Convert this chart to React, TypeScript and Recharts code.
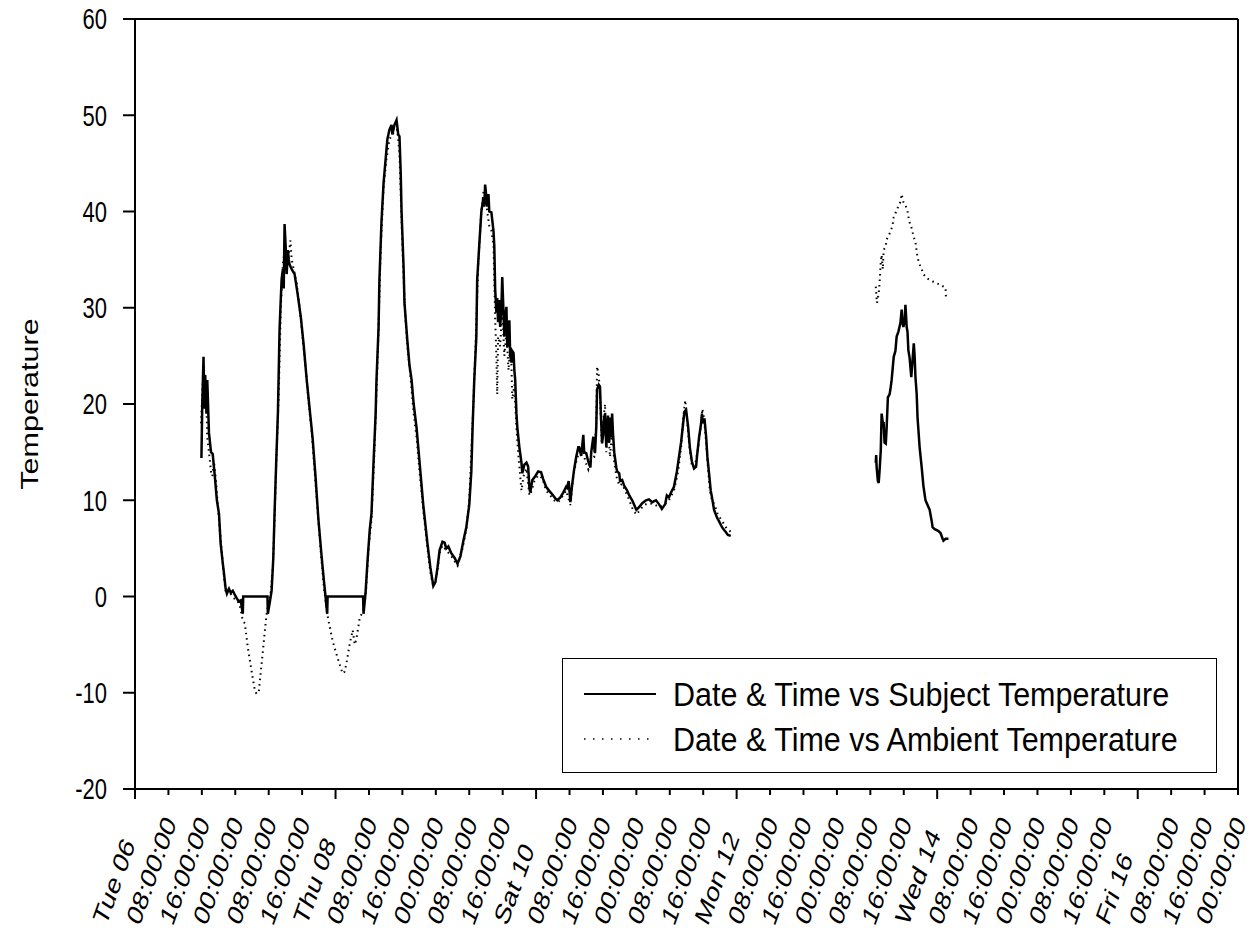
import React from 'react';
import { LineChart, Line, XAxis, YAxis, ReferenceLine } from 'recharts';

// x = hours since Tue 06 00:00, ticks every 8 h
const HOUR_TICKS = [
  0, 8, 16, 24, 32, 40, 48, 56, 64, 72, 80, 88, 96, 104, 112, 120, 128, 136,
  144, 152, 160, 168, 176, 184, 192, 200, 208, 216, 224, 232, 240, 248, 256, 264,
];
const HOUR_LABELS = [
  'Tue 06', '08:00:00', '16:00:00', '00:00:00', '08:00:00', '16:00:00',
  'Thu 08', '08:00:00', '16:00:00', '00:00:00', '08:00:00', '16:00:00',
  'Sat 10', '08:00:00', '16:00:00', '00:00:00', '08:00:00', '16:00:00',
  'Mon 12', '08:00:00', '16:00:00', '00:00:00', '08:00:00', '16:00:00',
  'Wed 14', '08:00:00', '16:00:00', '00:00:00', '08:00:00', '16:00:00',
  'Fri 16', '08:00:00', '16:00:00', '00:00:00',
];
const TEMP_TICKS = [-20, -10, 0, 10, 20, 30, 40, 50, 60];
const SERIES_NAMES = ['Date & Time vs Subject Temperature', 'Date & Time vs Ambient Temperature'];

// [hour, temperature]
const SUBJECT_1: [number, number][] = [
  [15.9, 14.4], [16.1, 20], [16.4, 24.9], [16.6, 19.5], [16.8, 23], [17.1, 19], [17.3, 22.5],
  [17.7, 17], [18.2, 15], [18.6, 14.8], [19.1, 12.5], [19.6, 10], [20.1, 8.6], [20.5, 5.5],
  [21.0, 3.5], [21.3, 2.4], [21.7, 0.8], [22.0, 0.3], [22.5, 0.8], [22.9, 0.4], [23.4, 0.6],
  [24.1, 0], [24.8, -0.5], [25.3, -0.4], [25.8, -1.8], [25.9, 0], [31.7, 0], [31.8, -1.8],
  [32.3, -0.5], [32.7, 0.6], [33.1, 4], [33.4, 8.6], [33.8, 14], [34.2, 19], [34.6, 27.7],
  [34.9, 31], [35.1, 33], [35.4, 34], [35.6, 32], [35.8, 38.7], [36.1, 36], [36.3, 33.5],
  [36.6, 36], [36.8, 35], [37.0, 34.5], [37.5, 34], [38.2, 33.5], [38.9, 31.5], [39.7, 29],
  [40.4, 26], [41.1, 22.5], [41.8, 19.5], [42.5, 16.5], [43.2, 12.5], [43.9, 8], [44.7, 4],
  [45.2, 1.7], [45.6, 0], [46.0, -1.8], [46.1, 0], [54.6, 0], [54.7, -1.8], [55.2, 0.5],
  [55.7, 4], [56.2, 7], [56.6, 8.6], [57.1, 14], [57.6, 19], [57.8, 22.5], [58.3, 28],
  [58.5, 32.9], [59.0, 39], [59.5, 43], [60.0, 45.5], [60.4, 47.5], [60.9, 48.5], [61.4, 49],
  [61.6, 48], [62.1, 49], [62.6, 49.5], [63.0, 48], [63.3, 47.8], [63.6, 44], [63.8, 40],
  [64.3, 34], [64.5, 30.5], [65.2, 26.5], [65.7, 24], [66.2, 22.5], [66.7, 20], [67.4, 17.5],
  [68.1, 14], [69.0, 9.5], [70.0, 5.5], [70.7, 3], [71.4, 1.1], [71.9, 1.5], [72.4, 3],
  [72.9, 4.8], [73.6, 5.7], [74.1, 5.6], [74.5, 5], [75.0, 5.2], [75.7, 4.5], [76.5, 4],
  [77.2, 3.4], [77.9, 4.2], [78.6, 5.8], [79.3, 7.2], [80.0, 9.5], [80.5, 13], [80.8, 17.6],
  [81.2, 22.5], [81.7, 27], [81.9, 32.9], [82.4, 36.5], [82.9, 40], [83.4, 41.5], [83.6, 40.5],
  [83.8, 42.8], [84.1, 41.5], [84.3, 40.5], [84.6, 41.8], [84.8, 40], [85.3, 39.9], [85.8, 38],
  [86.0, 36.4], [86.2, 32], [86.5, 29.5], [86.7, 31], [86.9, 28.5], [87.2, 30.8], [87.4, 28],
  [87.7, 30], [87.9, 33.2], [88.2, 29.5], [88.4, 27], [88.6, 29], [88.9, 30.1], [89.1, 25.9],
  [89.3, 27], [89.6, 28.7], [89.8, 25], [90.1, 24.3], [90.3, 25.5], [90.6, 25.3], [90.8, 23.5],
  [91.0, 22.5], [91.3, 19], [91.5, 17.6], [92.0, 15.5], [92.5, 13.9], [92.7, 12.8], [93.2, 13.7],
  [93.7, 13.9], [94.1, 13.5], [94.4, 11.3], [94.6, 10.8], [95.1, 12.1], [95.8, 12.5], [96.5, 13],
  [97.2, 12.9], [97.7, 12.2], [98.4, 11.4], [99.1, 11], [99.9, 10.6], [100.6, 10.2], [101.1, 10],
  [101.8, 10.3], [102.5, 10.8], [103.2, 11.4], [103.4, 11.3], [103.8, 12], [104.2, 9.8],
  [104.6, 11.5], [105.1, 13.2], [105.6, 14.5], [106.1, 15.5], [106.3, 15.5], [106.8, 14.6],
  [107.3, 16.8], [107.5, 15], [108.0, 14.9], [108.5, 14], [109.0, 13.4], [109.2, 15], [109.7, 16.6],
  [109.9, 15.5], [110.1, 14.9], [110.4, 17.5], [110.6, 21.5], [111.0, 22], [111.3, 21.8],
  [111.5, 19], [111.8, 15.9], [112.1, 17], [112.3, 18.5], [112.5, 19], [112.8, 15.5], [113.0, 17],
  [113.2, 18.8], [113.5, 16], [113.7, 18.6], [114.0, 16.5], [114.2, 19], [114.4, 17], [114.7, 15],
  [115.2, 13.4], [115.4, 13], [115.9, 12.8], [116.1, 12], [116.6, 12.1], [117.1, 11.5],
  [117.8, 11], [118.3, 10.5], [119.0, 10], [119.5, 9.5], [120.0, 9], [120.7, 9.3], [121.4, 9.7],
  [122.3, 10], [123.0, 10.1], [123.8, 9.8], [124.7, 10], [125.4, 9.6], [126.1, 9.1], [126.9, 9.6],
  [127.3, 10.5], [127.8, 10.3], [128.3, 10.8], [129.0, 11.4], [129.7, 13], [130.2, 14.5],
  [130.7, 16], [131.2, 18], [131.5, 19.2], [131.9, 19.4], [132.4, 17.6], [132.8, 15.5], [133.3, 14],
  [133.8, 13.3], [134.3, 13.5], [134.5, 14.5], [135.0, 16.5], [135.5, 18], [135.7, 19], [135.9, 18],
  [136.3, 18.5], [136.7, 16.6], [137.0, 14.5], [137.4, 12.8], [137.8, 11], [138.1, 10.3],
  [138.6, 9], [139.3, 8.2], [139.8, 7.8], [140.5, 7.2], [141.0, 6.9], [141.4, 6.7], [141.9, 6.4],
  [142.6, 6.3],
];
const SUBJECT_2: [number, number][] = [
  [177.3, 13.9], [177.4, 14.7], [177.5, 13.5], [177.8, 12], [178.0, 11.8], [178.2, 13],
  [178.5, 15.2], [178.7, 19], [179.0, 18], [179.2, 18], [179.4, 16], [179.7, 15.9], [179.9, 17.5],
  [180.2, 20.7], [180.6, 21], [180.8, 21.5], [181.1, 22.5], [181.6, 24.9], [182.0, 25.5],
  [182.3, 27], [182.7, 27.5], [183.2, 28.4], [183.5, 29.8], [183.7, 28.5], [183.9, 28],
  [184.2, 28.6], [184.4, 30.3], [184.7, 28], [184.9, 27.5], [185.1, 25.6], [185.4, 24.8],
  [185.8, 22.8], [186.1, 24.5], [186.4, 26.3], [186.6, 25], [186.8, 22.8], [187.1, 21],
  [187.3, 18.6], [187.8, 15.5], [188.3, 13.4], [188.7, 11.5], [189.2, 10], [189.7, 9.5],
  [190.2, 9], [190.7, 7.8], [190.9, 7.2], [191.4, 7], [191.9, 6.9], [192.3, 6.8], [192.8, 6.6],
  [193.3, 6], [193.5, 5.8], [194.0, 6], [194.7, 6],
];
const AMBIENT_1: [number, number][] = [
  [15.8, 18], [16.2, 22], [16.5, 24], [16.7, 20], [17.0, 21.5], [17.3, 16.5], [17.7, 15],
  [18.2, 13], [18.5, 12.5], [18.9, 14], [19.4, 12], [19.8, 9.5], [20.3, 7], [20.8, 4.5],
  [21.3, 2], [21.7, 0.5], [22.2, 0.8], [22.9, 0.3], [23.7, -0.2], [24.4, -0.3], [25.1, -1],
  [25.8, -2.5], [26.3, -2.8], [27.0, -5.3], [28.0, -8], [28.7, -9.8], [29.1, -10.1], [29.6, -10],
  [30.3, -7], [31.1, -3.5], [31.5, -1.8], [32.0, -0.5], [32.5, 0.5], [33.0, 3], [33.4, 8],
  [33.9, 15], [34.4, 21], [34.9, 30], [35.4, 34.5], [35.8, 36], [36.3, 34], [36.8, 35.5],
  [37.2, 37], [37.5, 35], [38.0, 34], [38.7, 32.5], [39.4, 30], [40.1, 27], [40.9, 23.5],
  [41.6, 20], [42.3, 17], [43.0, 13], [43.7, 9], [44.4, 5], [45.2, 1], [45.9, -1.5], [46.3, -2.5],
  [47.3, -4.6], [48.5, -6.4], [49.7, -8], [50.2, -7.8], [50.7, -6.7], [51.4, -4.9], [52.1, -3.5],
  [52.6, -5], [53.0, -4.4], [53.8, -2.2], [54.5, -1.6], [55.2, 0], [55.9, 5], [56.6, 8],
  [57.3, 15], [58.1, 25], [58.8, 36], [59.5, 42.5], [60.2, 45.5], [60.9, 47.5], [61.6, 48],
  [62.4, 48.5], [62.8, 48.5], [63.3, 46], [63.8, 39], [64.3, 33], [64.7, 29], [65.2, 26],
  [65.9, 23], [66.7, 19], [67.4, 16.5], [68.1, 13], [69.0, 9], [70.0, 5], [70.7, 2.5], [71.4, 1],
  [72.2, 2], [72.9, 4.5], [73.6, 5.3], [74.5, 4.8], [75.7, 4.2], [77.2, 3.2], [78.4, 5], [79.3, 7],
  [80.0, 10], [80.8, 18], [81.5, 26], [82.2, 35], [82.9, 40], [83.4, 42], [83.8, 42.5], [84.3, 40],
  [84.8, 38.5], [85.3, 38], [85.8, 36.5], [86.2, 29], [86.5, 24.9], [86.7, 21], [86.9, 27],
  [87.4, 26], [87.9, 30], [88.4, 25], [88.9, 27.5], [89.4, 23.5], [89.8, 26], [90.1, 24],
  [90.3, 20.5], [90.8, 22], [91.3, 17.5], [91.7, 15], [92.2, 12.5], [92.5, 11], [93.0, 12.5],
  [93.7, 13.3], [94.4, 10.5], [94.8, 10.8], [95.6, 12], [96.5, 12.6], [97.5, 12.3], [98.4, 11],
  [99.4, 10.5], [100.3, 10], [101.3, 9.8], [102.3, 10.4], [103.2, 11], [104.2, 9.5], [104.9, 12.5],
  [105.6, 14], [106.3, 15], [107.1, 15.5], [107.8, 14], [108.5, 13.2], [109.2, 14.5], [109.9, 14.5],
  [110.4, 18], [110.6, 23.9], [111.0, 23], [111.3, 21], [111.7, 16], [112.0, 18], [112.5, 20],
  [112.8, 15], [113.2, 17.5], [113.7, 14.5], [114.2, 17.5], [114.7, 14], [115.2, 12.5],
  [115.9, 11.5], [116.6, 11.7], [117.3, 11], [118.3, 10], [119.2, 9], [120.0, 8.5], [120.9, 9],
  [121.8, 9.5], [123.0, 9.7], [124.2, 9.6], [125.4, 9.3], [126.6, 9.5], [127.8, 10], [129.0, 11],
  [130.0, 13], [130.7, 15.5], [131.2, 18.5], [131.7, 20.4], [132.1, 18.5], [132.6, 16],
  [133.3, 13.5], [134.0, 13.5], [134.8, 15.5], [135.5, 18], [135.8, 19.5], [136.2, 18.5],
  [136.7, 16], [137.2, 13], [137.6, 11], [138.1, 10], [138.8, 9.5], [139.5, 8.5], [140.3, 8],
  [141.0, 7.5], [141.7, 7], [142.4, 6.8], [142.9, 6.5],
];
const AMBIENT_2: [number, number][] = [
  [177.3, 32.2], [177.5, 31], [177.6, 30.5], [178.0, 31.5], [178.2, 32.5], [178.5, 34.7],
  [178.7, 35.5], [179.0, 34], [179.2, 36], [179.7, 36.4], [179.9, 37.1], [180.4, 37.5],
  [180.8, 37.9], [181.3, 38.5], [181.6, 39.4], [182.0, 39.8], [182.3, 40.2], [182.7, 40.5],
  [183.2, 41], [183.5, 41.8], [183.9, 41], [184.4, 40.7], [184.9, 40], [185.1, 39.5],
  [185.6, 38.5], [185.8, 38.4], [186.3, 37.5], [186.8, 36.8], [187.3, 35.2], [187.8, 34.5],
  [188.3, 34], [188.7, 33.5], [189.4, 33.1], [190.2, 32.9], [191.1, 32.7], [192.1, 32.5],
  [192.8, 32.4], [193.5, 32.2], [194.0, 32.1], [194.1, 31.1],
];

const GAP_HOUR = 160; // no readings between Mon evening and Tue afternoon

const toRows = (a: [number, number][], b: [number, number][]) => [
  ...a.map(([h, t]) => ({ h, t })),
  { h: GAP_HOUR, t: null },
  ...b.map(([h, t]) => ({ h, t })),
];

const subjectData = toRows(SUBJECT_1, SUBJECT_2);
const ambientData = toRows(AMBIENT_1, AMBIENT_2);

const FONT = '"Liberation Sans", Arial, sans-serif';
const STRETCH = 1.3; // text in the original looks tall and narrow
const DOTS = '1.5 4';

const XTick = (props: any) => {
  const { x, y, index } = props;
  const label = HOUR_LABELS[index] ?? '';
  const major = !/^\d/.test(label);
  return (
    <g transform={`translate(${x},${y})`}>
      <line x1={0} y1={0} x2={0} y2={major ? 10 : 6} stroke="#000" strokeWidth={2} />
      <g transform={`translate(-29,138) scale(1,1.35) rotate(-64)`}>
        <text x={0} y={0} textAnchor="start" fontSize={22} fontFamily={FONT} fill="#000">
          {label}
        </text>
      </g>
    </g>
  );
};

const YTick = (props: any) => {
  const { x, y, payload } = props;
  return (
    <g transform={`translate(${x},${y}) scale(1,${STRETCH})`}>
      <text x={0} y={0} dy="0.36em" textAnchor="end" fontSize={22} fontFamily={FONT} fill="#000">
        {payload.value}
      </text>
    </g>
  );
};

const YTitle = (props: any) => {
  const { viewBox } = props;
  const cy = viewBox.y + viewBox.height / 2;
  return (
    <g transform={`translate(30,${cy}) scale(1,${STRETCH}) rotate(-90)`}>
      <text x={0} y={0} dy="0.36em" textAnchor="middle" fontSize={23.5} fontFamily={FONT} fill="#000">
        Temperature
      </text>
    </g>
  );
};

const LegendBox = () => (
  <div
    style={{
      position: 'absolute',
      left: 562,
      top: 658,
      width: 655,
      height: 115,
      boxSizing: 'border-box',
      border: '1.5px solid #000',
      fontFamily: FONT,
      fontSize: 30.5,
      color: '#000',
      background: '#fff',
    }}
  >
    {SERIES_NAMES.map((name, i) => (
      <div
        key={name}
        style={{ position: 'absolute', left: 0, top: 15 + i * 45, height: 40, display: 'flex', alignItems: 'center' }}
      >
        <svg width={110} height={40} style={{ display: 'block' }}>
          <line
            x1={21}
            y1={20}
            x2={93}
            y2={20}
            stroke="#000"
            strokeWidth={i ? 1.5 : 2}
            strokeDasharray={i ? '1.5 7.5' : undefined}
          />
        </svg>
        <span style={{ whiteSpace: 'nowrap', lineHeight: '40px', display: 'inline-block', transform: 'scaleY(1.1)' }}>
          {name}
        </span>
      </div>
    ))}
  </div>
);

export default function App() {
  return (
    <div style={{ position: 'absolute', left: 0, top: 0, width: 1252, height: 930, background: '#fff' }}>
      <LineChart width={1252} height={930} margin={{ top: 19, right: 14, bottom: 0, left: 0 }}>
        <XAxis
          dataKey="h"
          type="number"
          domain={[0, 264]}
          ticks={HOUR_TICKS}
          interval={0}
          allowDataOverflow
          height={141}
          tickSize={0}
          tickMargin={0}
          tickLine={false}
          axisLine={{ stroke: '#000', strokeWidth: 2 }}
          tick={<XTick />}
        />
        <YAxis
          type="number"
          domain={[-20, 60]}
          ticks={TEMP_TICKS}
          interval={0}
          width={135}
          tickSize={12}
          tickMargin={16}
          tickLine={{ stroke: '#000', strokeWidth: 2 }}
          axisLine={{ stroke: '#000', strokeWidth: 2 }}
          tick={<YTick />}
          label={<YTitle />}
        />
        <ReferenceLine y={60} stroke="#000" strokeWidth={2} />
        <ReferenceLine x={264} stroke="#000" strokeWidth={2} />
        <Line
          data={subjectData}
          dataKey="t"
          name={SERIES_NAMES[0]}
          type="linear"
          stroke="#000"
          strokeWidth={2.5}
          dot={false}
          connectNulls={false}
          isAnimationActive={false}
        />
        <Line
          data={ambientData}
          dataKey="t"
          name={SERIES_NAMES[1]}
          type="linear"
          stroke="#000"
          strokeWidth={2}
          strokeDasharray={DOTS}
          dot={false}
          connectNulls={false}
          isAnimationActive={false}
        />
      </LineChart>
      <LegendBox />
    </div>
  );
}
